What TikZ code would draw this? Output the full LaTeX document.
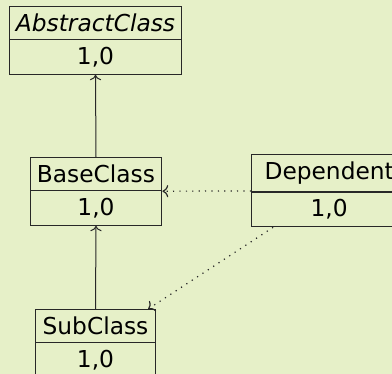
\documentclass[tikz,border=0pt]{standalone}
\usepackage{fontspec}
\setmainfont{DejaVu Sans}[ItalicFont={DejaVu Sans Oblique}]
\usetikzlibrary{shapes.multipart,arrows.meta}
\definecolor{bg}{RGB}{230,240,200}
\definecolor{ln}{RGB}{40,40,40}
\begin{document}
\begin{tikzpicture}[x=0.5pt,y=-0.5pt,
  umlclass/.style={rectangle split, rectangle split parts=2, draw=ln, line width=0.6pt,
    inner sep=3.4pt, font=\fontsize{11.65}{14}\selectfont},
  inherit/.style={draw=ln, line width=0.5pt, -{To}},
  depend/.style={draw=ln, line width=0.6pt, dash pattern=on 0.6pt off 2.6pt, -{To}}]
\useasboundingbox (0,0) rectangle (392,374);
\fill[bg] (0,0) rectangle (392,374);
\clip (0,0) rectangle (392,374);
\node[umlclass, anchor=north] (abs) at (95.5,6) {\textit{AbstractClass}\nodepart{two}1,0};
\node[umlclass, anchor=north] (base) at (96,157) {BaseClass\nodepart{two}1,0};
\node[umlclass, inner xsep=6.5pt, anchor=north west] (dep) at (251,154) {Dependent\nodepart{two}1,0};
\node[umlclass, anchor=north] (sub) at (95.5,309) {SubClass\nodepart{two}1,0};
\draw[inherit] (base.north) -- (abs.south);
\draw[inherit] (sub.north) -- (base.south);
\draw[depend] (dep) -- (base);
\draw[depend] (dep) -- (sub);
\end{tikzpicture}
\end{document}
